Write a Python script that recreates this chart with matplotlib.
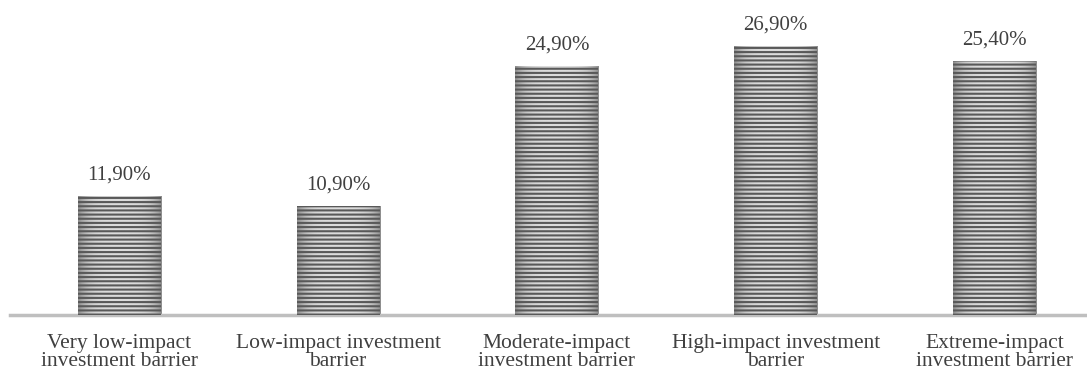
import numpy as np
import matplotlib.pyplot as plt

categories = [
    "Very low-impact\ninvestment barrier",
    "Low-impact investment\nbarrier",
    "Moderate-impact\ninvestment barrier",
    "High-impact investment\nbarrier",
    "Extreme-impact\ninvestment barrier",
]
shares = [11.9, 10.9, 24.9, 26.9, 25.4]
value_labels = ["11,90%", "10,90%", "24,90%", "26,90%", "25,40%"]

plt.rcParams['font.family'] = ['Liberation Serif', 'DejaVu Serif']
plt.rcParams['hatch.linewidth'] = 1.5

fig = plt.figure(figsize=(10.87, 3.73), dpi=100)
ax = fig.add_axes([10 / 1087, 58 / 373, 1093.75 / 1087, 315 / 373])

x = np.arange(len(categories))
bars = ax.bar(x, shares, width=0.38, color='none', edgecolor='#595959',
              linewidth=0, hatch='----', zorder=3)

# horizontal shading behind the stripes: darker towards the bar edges
t = np.linspace(-1, 1, 64)
shade = 0.86 - 0.30 * t ** 4
grad = np.tile(shade, (2, 1))
for rect in bars:
    x0, y0 = rect.get_x(), rect.get_y()
    w, h = rect.get_width(), rect.get_height()
    im = ax.imshow(grad, cmap='gray', vmin=0, vmax=1, aspect='auto',
                   extent=(x0, x0 + w, y0, y0 + h), interpolation='bilinear',
                   zorder=2)
    im.set_clip_path(rect)

for xi, v, lab in zip(x, shares, value_labels):
    ax.text(xi, v + 1.6, lab, ha='center', va='baseline', fontsize=15,
            color='#404040')

ax.set_xlim(-0.5, 4.5)
ax.set_ylim(0, 31.5)
ax.set_xticks(x)
ax.set_xticklabels(categories, fontsize=15.5, color='#404040', linespacing=0.9)
ax.tick_params(axis='x', length=0, pad=14)
ax.set_yticks([])
for side in ['top', 'right', 'left']:
    ax.spines[side].set_visible(False)
ax.spines['bottom'].set_color('#bfbfbf')
ax.spines['bottom'].set_linewidth(2.5)

fig.savefig('out.png', dpi=100)
